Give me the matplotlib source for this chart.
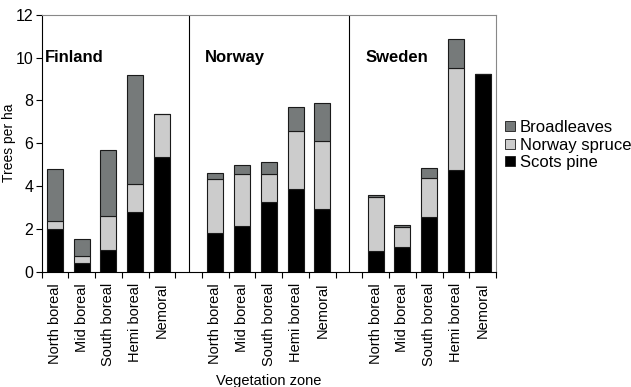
import matplotlib
matplotlib.use("Agg")
import matplotlib.pyplot as plt
from matplotlib.patches import Patch
import numpy as np

plt.rcParams['font.family'] = ['Liberation Sans', 'DejaVu Sans']

countries = ["Finland", "Norway", "Sweden"]
zones = ["North boreal", "Mid boreal", "South boreal", "Hemi boreal", "Nemoral"]

# trees per ha by species, one list per country, zones in the order above
scots_pine = {
    "Finland": [2.0, 0.39, 1.02, 2.78, 5.35],
    "Norway": [1.82, 2.15, 3.27, 3.86, 2.91],
    "Sweden": [0.98, 1.15, 2.57, 4.76, 9.21],
}
norway_spruce = {
    "Finland": [0.37, 0.34, 1.58, 1.30, 2.03],
    "Norway": [2.51, 2.43, 1.29, 2.69, 3.19],
    "Sweden": [2.52, 0.92, 1.82, 4.75, 0.0],
}
broadleaves = {
    "Finland": [2.42, 0.79, 3.10, 5.12, 0.0],
    "Norway": [0.28, 0.38, 0.56, 1.14, 1.76],
    "Sweden": [0.10, 0.12, 0.47, 1.37, 0.0],
}

c_pine = "#000000"
c_spruce = "#cccccc"
c_broad = "#767a7a"
edge = "#1a1a1a"

fig = plt.figure(figsize=(6.31, 3.87), dpi=100)
ax = fig.add_axes([0.066, 0.298, 0.72, 0.664])

n_per = len(zones)
gap = 1
positions = []
labels = []
width = 0.6
for i, c in enumerate(countries):
    x = np.arange(n_per) + i * (n_per + gap)
    p = np.array(scots_pine[c])
    s = np.array(norway_spruce[c])
    b = np.array(broadleaves[c])
    ax.bar(x, p, width, color=c_pine, edgecolor=edge, linewidth=0.8)
    ax.bar(x, s, width, bottom=p, color=c_spruce, edgecolor=edge, linewidth=0.8)
    ax.bar(x, b, width, bottom=p + s, color=c_broad, edgecolor=edge, linewidth=0.8)
    positions.extend(x)
    labels.extend(zones)
    ax.text(x[0] - 0.38, 10, c, fontsize=12, fontweight='bold',
            va='center', ha='left')
    if i > 0:
        ax.axvline(x[0] - 1, color='black', linewidth=0.8)

total_slots = len(countries) * n_per + (len(countries) - 1) * gap
ax.set_xlim(-0.5, total_slots - 0.5)
ax.set_ylim(0, 12)
ax.set_yticks(np.arange(0, 13, 2))
ax.tick_params(axis='y', direction='out', length=4, labelsize=11.5, width=0.8, pad=2)

ax.set_xticks(positions)
ax.set_xticklabels(labels, rotation=90, fontsize=10.5)
ax.tick_params(axis='x', which='major', length=0, pad=8)
ax.set_xticks(np.arange(-0.5, total_slots, 1), minor=True)
ax.tick_params(axis='x', which='minor', direction='out', length=4, width=0.8)

for side in ('top', 'right'):
    ax.spines[side].set_color('#888888')
for side in ('left', 'bottom'):
    ax.spines[side].set_color('black')
    ax.spines[side].set_linewidth(0.8)

ax.set_ylabel("Trees per ha", fontsize=10)
ax.yaxis.set_label_coords(-0.056, 0.5)
ax.set_xlabel("Vegetation zone", fontsize=10.5, labelpad=6)

handles = [
    Patch(facecolor=c_broad, edgecolor=edge, linewidth=0.6, label="Broadleaves"),
    Patch(facecolor=c_spruce, edgecolor=edge, linewidth=0.6, label="Norway spruce"),
    Patch(facecolor=c_pine, edgecolor=edge, linewidth=0.6, label="Scots pine"),
]
fig.legend(handles=handles, loc='center left', bbox_to_anchor=(0.801, 0.625),
           frameon=False, fontsize=12, handlelength=0.55, handleheight=0.55,
           handletextpad=0.3, labelspacing=0.15, borderpad=0, borderaxespad=0)

fig.savefig("out.png", dpi=100)
